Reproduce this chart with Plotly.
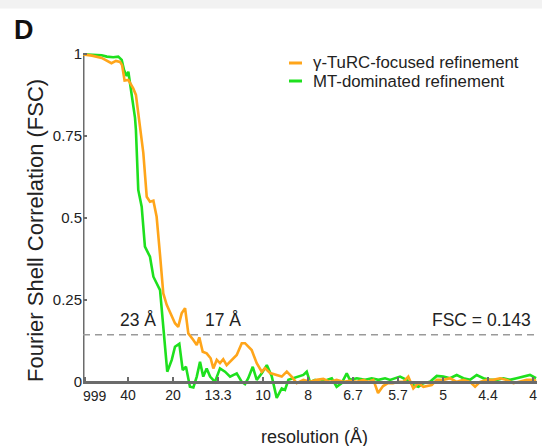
import plotly.graph_objects as go

# ---------------- data (spatial frequency in 1/Å, FSC) ----------------
orange_freq = [0.000, 0.005, 0.0104, 0.0158, 0.0183, 0.0206, 0.0217, 0.0231, 0.0252, 0.0279,
               0.0294, 0.0307, 0.0319, 0.0335, 0.0354, 0.0372, 0.0391, 0.0409, 0.0428, 0.0446,
               0.0465, 0.0483, 0.0511, 0.0529, 0.0548, 0.0567, 0.0585, 0.0613, 0.0632, 0.0646,
               0.0665, 0.0687, 0.0709, 0.0724, 0.0743, 0.0761, 0.0779, 0.0798, 0.0826, 0.0854,
               0.0882, 0.0900, 0.0937, 0.0965, 0.0993, 0.1011, 0.1039, 0.1076, 0.1104, 0.1132,
               0.1159, 0.1187, 0.1224, 0.1261, 0.1298, 0.1335, 0.1372, 0.1409, 0.1446, 0.1483,
               0.1521, 0.1557, 0.1585, 0.1613, 0.1639, 0.1667, 0.1694, 0.1722, 0.1750, 0.1780,
               0.1807, 0.1835, 0.1863, 0.1891, 0.1937, 0.1965, 0.2002, 0.2039, 0.2076, 0.2113,
               0.2150, 0.2178, 0.2206, 0.2243, 0.2279, 0.2317, 0.2354, 0.2391, 0.2428, 0.2465,
               0.2502, 0.2517]
orange_fsc = [0.999, 0.995, 0.988, 0.972, 0.979, 0.976, 0.966, 0.919, 0.921, 0.895,
              0.875, 0.824, 0.774, 0.698, 0.564, 0.549, 0.552, 0.503, 0.386, 0.269,
              0.234, 0.213, 0.178, 0.167, 0.208, 0.224, 0.147, 0.127, 0.111, 0.135,
              0.091, 0.086, 0.071, 0.040, 0.066, 0.056, 0.068, 0.050, 0.066, 0.081,
              0.117, 0.117, 0.096, 0.056, 0.030, 0.041, 0.026, 0.020, 0.015, 0.030,
              0.015, -0.005, 0.005, -0.001, 0.005, 0.008, -0.001, 0.005, -0.001, 0.002,
              -0.001, 0.005, -0.001, 0.005, -0.035, -0.014, -0.005, -0.005, -0.001, -0.001,
              0.015, -0.021, -0.005, -0.016, -0.011, 0.005, 0.005, 0.010, -0.001, 0.005,
              -0.001, -0.016, -0.001, 0.005, 0.005, 0.010, 0.005, -0.005, -0.001, 0.005,
              0.005, 0.002]

green_freq = [0.000, 0.005, 0.0104, 0.0132, 0.0168, 0.0196, 0.0215, 0.0228, 0.0243, 0.0252,
              0.0257, 0.0271, 0.0289, 0.0294, 0.0307, 0.0326, 0.0344, 0.0372, 0.0391, 0.0428,
              0.0437, 0.0450, 0.0468, 0.0493, 0.0511, 0.0535, 0.0554, 0.0572, 0.0594, 0.0613,
              0.0632, 0.0650, 0.0668, 0.0687, 0.0706, 0.0733, 0.0761, 0.0789, 0.0817, 0.0854,
              0.0882, 0.0900, 0.0918, 0.0943, 0.0965, 0.0993, 0.1021, 0.1048, 0.1076, 0.1104,
              0.1122, 0.1141, 0.1168, 0.1196, 0.1224, 0.1243, 0.1261, 0.1289, 0.1317, 0.1354,
              0.1382, 0.1409, 0.1437, 0.1465, 0.1483, 0.1521, 0.1567, 0.1604, 0.1641, 0.1678,
              0.1706, 0.1761, 0.1798, 0.1835, 0.1863, 0.1891, 0.1928, 0.1965, 0.2002, 0.2039,
              0.2076, 0.2113, 0.2150, 0.2187, 0.2224, 0.2261, 0.2298, 0.2335, 0.2372, 0.2409,
              0.2446, 0.2483, 0.2517]
green_fsc = [0.999, 0.998, 0.996, 0.992, 0.990, 0.992, 0.982, 0.951, 0.933, 0.946,
             0.927, 0.860, 0.805, 0.768, 0.585, 0.534, 0.412, 0.381, 0.320, 0.279,
             0.218, 0.127, 0.030, 0.066, 0.106, 0.115, 0.035, 0.045, -0.016, -0.018,
             0.015, 0.060, 0.015, 0.040, 0.015, -0.001, 0.040, 0.030, 0.015, 0.025,
             -0.001, -0.008, 0.010, 0.045, 0.005, 0.025, 0.050, 0.017, -0.050, -0.021,
             -0.026, 0.005, 0.010, 0.015, 0.020, 0.030, -0.002, 0.005, -0.001, 0.005,
             0.010, -0.016, -0.005, 0.025, 0.005, 0.010, 0.005, 0.010, 0.005, 0.010,
             0.005, 0.015, 0.005, -0.011, -0.016, -0.005, -0.001, 0.017, 0.015, 0.010,
             0.020, 0.010, 0.005, 0.020, 0.010, 0.005, 0.005, 0.010, 0.005, 0.010,
             0.015, 0.020, 0.010]

series_names = ["γ-TuRC-focused refinement", "MT-dominated refinement"]
series_colors = ["#FFA51A", "#1EE01E"]

x_tick_vals = [0.001, 0.025, 0.05, 0.075, 0.1, 0.125, 0.15, 0.175, 0.2, 0.225, 0.25]
x_tick_text = ["999", "40", "20", "13.3", "10", "8", "6.7", "5.7", "5", "4.4", "4"]
y_tick_vals = [0, 0.25, 0.5, 0.75, 1]
y_tick_text = ["0", "0.25", "0.5", "0.75", "1"]

threshold = 0.143
res_labels = ["23 Å", "17 Å"]
res_label_freq = [0.0306, 0.0778]

# ---------------- layout geometry ----------------
W, H = 542, 446
L, R, T, B = 83, 5, 51, 45
PW, PH = W - L - R, H - T - B
X_RANGE = [0, 0.2522]
Y_RANGE = [-0.0595, 1.0092]

def px_x(p):
    return (p - L) / PW

def px_y(p):
    return (H - B - p) / PH

FONT = "Liberation Sans, Arial, Helvetica, sans-serif"
AXIS_COLOR = "#6b6b6b"
TXT = "#222222"

fig = go.Figure()
for fx, fy, name, col in [(orange_freq, orange_fsc, series_names[0], series_colors[0]),
                          (green_freq, green_fsc, series_names[1], series_colors[1])][::-1]:
    fig.add_trace(go.Scatter(x=fx, y=fy, mode="lines", name=name,
                             line=dict(color=col, width=2.6), showlegend=False))

x_axis_pos = (0 - Y_RANGE[0]) / (Y_RANGE[1] - Y_RANGE[0])

# first x tick label ("999") is drawn left-aligned at the axis origin, as in the reference
axis_tick_text = [""] + x_tick_text[1:]

fig.update_layout(
    width=W, height=H,
    margin=dict(l=L, r=R, t=T, b=B),
    paper_bgcolor="white", plot_bgcolor="white",
    font=dict(family=FONT, color=TXT),
    xaxis=dict(range=X_RANGE, anchor="free", position=x_axis_pos,
               showgrid=False, zeroline=False,
               showline=True, linecolor=AXIS_COLOR, linewidth=3,
               ticks="inside", ticklen=4, tickwidth=2, tickcolor=AXIS_COLOR,
               tickvals=x_tick_vals, ticktext=axis_tick_text,
               tickfont=dict(size=14, color=TXT)),
    yaxis=dict(range=Y_RANGE, showgrid=False, zeroline=False, showline=False,
               ticks="inside", ticklen=4, tickwidth=2, tickcolor=AXIS_COLOR,
               tickvals=y_tick_vals, ticktext=y_tick_text,
               tickfont=dict(size=15, color=TXT)),
)

shapes = []
# top grey band
shapes.append(dict(type="rect", xref="paper", yref="paper",
                   x0=px_x(0), x1=px_x(W), y0=px_y(8.5), y1=px_y(0),
                   fillcolor="#f2f2f2", line=dict(width=0), layer="below"))
# left axis line (from 0 to 1)
shapes.append(dict(type="line", xref="x", yref="y", x0=0, x1=0, y0=-0.004, y1=1.0,
                   line=dict(color=AXIS_COLOR, width=3), layer="below"))
# threshold line
shapes.append(dict(type="line", xref="x", yref="y", x0=X_RANGE[0], x1=X_RANGE[1],
                   y0=threshold, y1=threshold,
                   line=dict(color="#9a9a9a", width=1.5, dash="7px,5px"), layer="below"))
# legend line samples
for i, col in enumerate(series_colors):
    yy = px_y(63 + i * 18)
    shapes.append(dict(type="line", xref="paper", yref="paper",
                       x0=px_x(289), x1=px_x(302), y0=yy, y1=yy,
                       line=dict(color=col, width=3)))
fig.update_layout(shapes=shapes)

ann = []
ann.append(dict(x=X_RANGE[0], y=0, xref="x", yref="y", text=x_tick_text[0], showarrow=False,
                xanchor="left", yanchor="top", yshift=-4, xshift=-2,
                font=dict(size=14, color=TXT)))
for lab, fx in zip(res_labels, res_label_freq):
    ann.append(dict(x=fx, y=0.188, xref="x", yref="y", text=lab, showarrow=False,
                    xanchor="center", yanchor="middle", font=dict(size=17.5, color=TXT)))
ann.append(dict(x=X_RANGE[1] - 0.0022, y=0.188, xref="x", yref="y", text="FSC = " + str(threshold),
                showarrow=False, xanchor="right", yanchor="middle",
                font=dict(size=17.5, color=TXT)))
for i, name in enumerate(series_names):
    ann.append(dict(x=px_x(311), y=px_y(63 + i * 18), xref="paper", yref="paper", text=name,
                    showarrow=False, xanchor="left", yanchor="middle",
                    font=dict(size=16.8, color=TXT)))
ann.append(dict(x=px_x(314), y=px_y(437), xref="paper", yref="paper", text="resolution (Å)",
                showarrow=False, xanchor="center", yanchor="middle",
                font=dict(size=18, color=TXT)))
ann.append(dict(x=px_x(36), y=px_y(231), xref="paper", yref="paper",
                text="Fourier Shell Correlation (FSC)", textangle=-90,
                showarrow=False, xanchor="center", yanchor="middle",
                font=dict(size=22, color=TXT)))
ann.append(dict(x=px_x(24), y=px_y(30), xref="paper", yref="paper", text="<b>D</b>",
                showarrow=False, xanchor="center", yanchor="middle",
                font=dict(size=27, color="#111111")))
fig.update_layout(annotations=ann)

fig.write_html("out.html",
               config={"displayModeBar": False},
               post_script="document.body.style.margin='0';document.body.style.padding='0';"
                           "document.documentElement.style.overflow='hidden';")
